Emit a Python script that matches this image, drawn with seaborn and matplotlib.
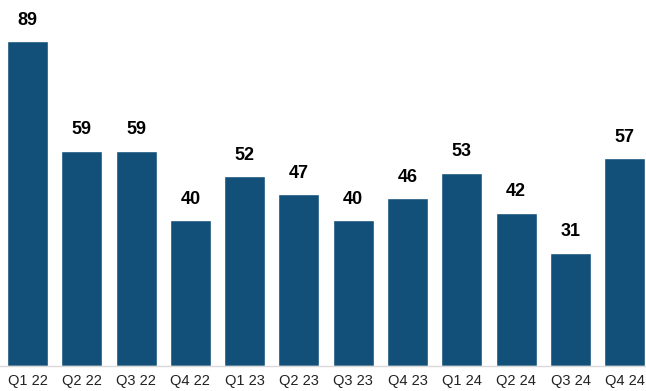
import matplotlib
matplotlib.use("Agg")
import matplotlib.pyplot as plt
import seaborn as sns
import pandas as pd

quarters = ["Q1 22", "Q2 22", "Q3 22", "Q4 22", "Q1 23", "Q2 23", "Q3 23",
            "Q4 23", "Q1 24", "Q2 24", "Q3 24", "Q4 24"]
counts = [89, 59, 59, 40, 52, 47, 40, 46, 53, 42, 31, 57]

df = pd.DataFrame({"quarter": quarters, "count": counts})

sns.set_theme(style="white")
plt.rcParams["font.family"] = ["Liberation Sans", "DejaVu Sans"]

fig = plt.figure(figsize=(6.46, 3.91), dpi=100)
ax = fig.add_axes([0, 25 / 391, 1, 366 / 391])

sns.barplot(data=df, x="quarter", y="count", color="#12507A", saturation=1,
            width=0.755, ax=ax)

for p, v in zip(ax.patches, counts):
    ax.annotate(f"{v}", (p.get_x() + p.get_width() / 2, p.get_height()),
                xytext=(0, 9), textcoords="offset points",
                ha="center", va="bottom", fontsize=13, fontweight="bold",
                color="#000000")

ax.set_xlim(-0.506, 11.39)
ax.set_ylim(0, 100.3)
ax.set_xlabel("")
ax.set_ylabel("")
ax.set_yticks([])
ax.tick_params(axis="x", length=0, pad=6, labelsize=10.5, labelcolor="#222222")
for s in ["top", "left", "right"]:
    ax.spines[s].set_visible(False)
ax.spines["bottom"].set_color("#d9d9d9")
ax.spines["bottom"].set_linewidth(1)

fig.savefig("out.png", dpi=100)
